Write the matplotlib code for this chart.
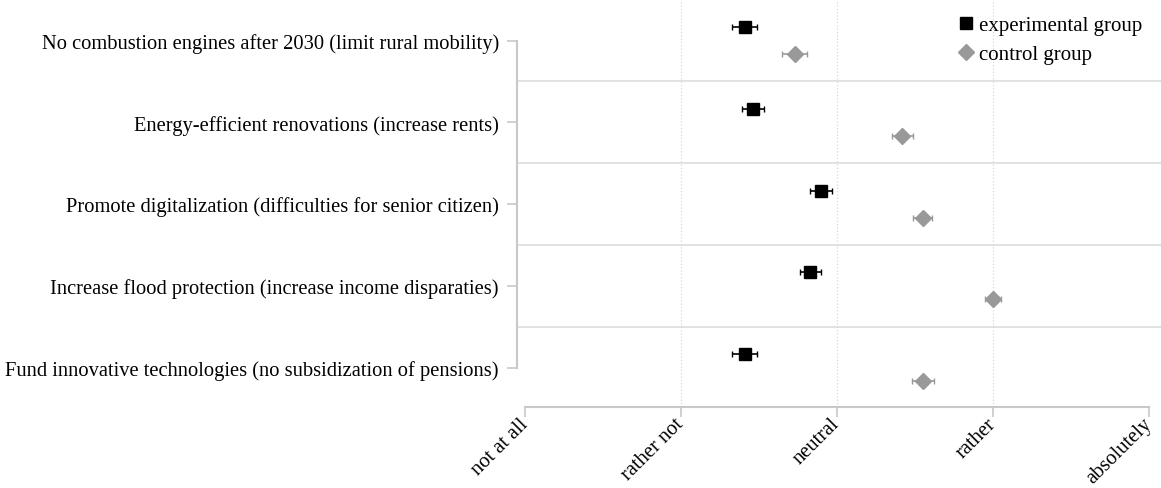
import matplotlib.pyplot as plt
from matplotlib.lines import Line2D
import numpy as np

# data
items = ['No combustion engines after 2030 (limit rural mobility)',
         'Energy-efficient renovations (increase rents)',
         'Promote digitalization (difficulties for senior citizen)',
         'Increase flood protection (increase income disparaties)',
         'Fund innovative technologies (no subsidization of pensions)']
exp_mean = [2.41, 2.46, 2.90, 2.83, 2.41]
exp_err = [0.08, 0.07, 0.07, 0.07, 0.08]
ctl_mean = [2.73, 3.42, 3.55, 4.00, 3.55]
ctl_err = [0.08, 0.07, 0.06, 0.05, 0.07]
scale_labels = ['not at all', 'rather not', 'neutral', 'rather', 'absolutely']

plt.rcParams['font.family'] = ['Liberation Serif', 'DejaVu Serif']

W, H = 1161, 489
fig = plt.figure(figsize=(W / 100, H / 100), dpi=100)
ax = fig.add_axes([517 / W, 81 / H, (W - 517) / W, 408 / H])

y = np.arange(len(items))
off = 0.165
ax.errorbar(exp_mean, y - off, xerr=exp_err, fmt='s', color='black',
            markersize=8.5, capsize=2.5, elinewidth=1.2)
ax.errorbar(ctl_mean, y + off, xerr=ctl_err, fmt='D', color='#999999',
            markersize=8, capsize=2.5, elinewidth=1.2)

ax.set_xlim(0.949, 5.077)
ax.set_ylim(4.483, -0.508)

# separators between items
for s in np.arange(0.5, len(items) - 1, 1):
    ax.axhline(s, color='#dddddd', lw=1.2, zorder=0)
# dotted vertical grid
for t in [2, 3, 4]:
    ax.axvline(t, color='#d8d8d8', lw=0.9, ls=':', zorder=0)

ax.set_yticks(y)
ax.set_yticklabels(items, fontsize=14.8)
ax.set_xticks(np.arange(1, 6))
ax.set_xticklabels(scale_labels, fontsize=14.8, rotation=45, ha='right',
                   va='center', rotation_mode='anchor')

for side in ['top', 'right']:
    ax.spines[side].set_visible(False)
ax.spines['left'].set_bounds(0, 4)
ax.spines['bottom'].set_bounds(1, 5)
for side in ['left', 'bottom']:
    ax.spines[side].set_color('#c8c8c8')
    ax.spines[side].set_linewidth(1.5)
ax.tick_params(axis='both', color='#c8c8c8', width=1.2, length=7)
ax.tick_params(axis='y', pad=6)
ax.tick_params(axis='x', pad=3)

handles = [Line2D([], [], ls='none', marker='s', color='black', markersize=8),
           Line2D([], [], ls='none', marker='D', color='#999999', markersize=8)]
ax.legend(handles, ['experimental group', 'control group'], loc='upper right',
          frameon=False, fontsize=15, handletextpad=0.15, handlelength=1.0,
          borderaxespad=0.0, labelspacing=0.45, bbox_to_anchor=(0.984, 0.98))

fig.savefig('out.png', dpi=100)
